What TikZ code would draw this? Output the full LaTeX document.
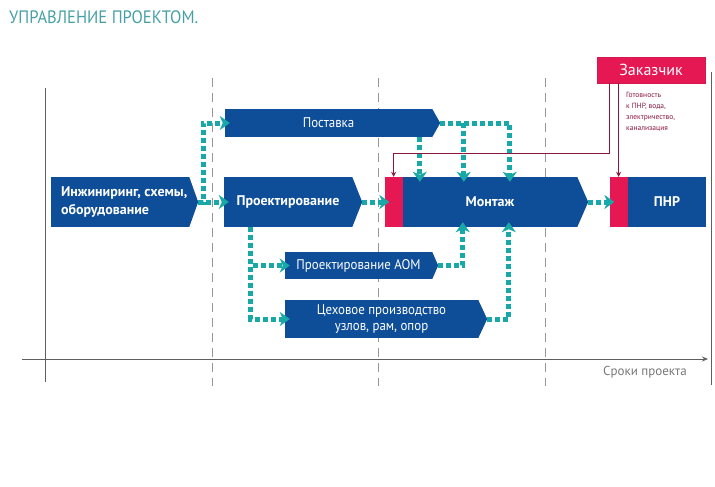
\documentclass[tikz,border=0pt]{standalone}
\usepackage{fontspec}
\setmainfont{PT Sans}
\newfontfamily\narrowfont{PT Sans}[FakeStretch=0.92]
\usetikzlibrary{arrows.meta,positioning}
\definecolor{blockblue}{RGB}{14,78,152}
\definecolor{custpink}{RGB}{230,24,84}
\definecolor{flowteal}{RGB}{24,168,168}
\definecolor{titleteal}{RGB}{72,160,166}
\definecolor{custline}{RGB}{140,22,62}
\definecolor{gridgray}{RGB}{150,150,150}
\definecolor{axisgray}{RGB}{95,95,95}

\begin{document}
\begin{tikzpicture}[x=1pt,y=-1pt,
  every node/.style={inner sep=0pt},
  block/.style={fill=blockblue, text=white, align=center, font=\narrowfont\fontsize{14}{17}\selectfont},
  boldblock/.style={block, font=\fontsize{14}{18}\selectfont\bfseries},
  strip/.style={fill=custpink, minimum width=18pt, minimum height=50pt},
  flow/.style={draw=flowteal, line width=5pt, dash pattern=on 5pt off 3pt, shorten >=-5pt, -{Stealth[length=10pt,width=14pt,inset=3pt]}},
  cust/.style={draw=custline, line width=0.8pt, -{Stealth[length=5pt,width=5pt]}},
  gridline/.style={draw=gridgray, line width=1pt, dash pattern=on 9pt off 6pt}]
\useasboundingbox (0,0) rectangle (715,487);

% title
\node[anchor=west, text=titleteal, font=\narrowfont\fontsize{18}{20}\selectfont] (title) at (9,17) {УПРАВЛЕНИЕ ПРОЕКТОМ.};

% time axis and stages
\foreach \x in {212,378,545}
  \draw[gridline] (\x,78) -- (\x,386);
\draw[axisgray, line width=0.8pt] (45,88) -- (45,382);
\draw[axisgray, line width=0.8pt] (711,72) -- (711,385);
\draw[axisgray, line width=0.8pt, -{Stealth[length=6pt,width=5pt]}] (22,359) -- (708,359);
\node[text=axisgray!85, font=\fontsize{13}{15}\selectfont] (axislabel) at (645,372) {Сроки проекта};

% blocks
\node[block, minimum width=138pt, minimum height=50pt] (eng) at (120,202) {};
\node[anchor=west, text=white, align=left, font=\fontsize{14}{18}\selectfont\bfseries] (engtext) at ([xshift=10pt]eng.west) {Инжиниринг, схемы,\\оборудование};
\node[block, minimum width=207pt, minimum height=28pt] (supply) at (328.5,123) {Поставка};
\node[boldblock, minimum width=128pt, minimum height=50pt] (design) at (288,202) {Проектирование};
\node[boldblock, minimum width=174pt, minimum height=50pt] (mont) at (490,202) {Монтаж};
\node[strip] (montstrip) [left=0pt of mont] {};
\node[boldblock, minimum width=78pt, minimum height=50pt] (pnr) at (667,202) {ПНР};
\node[strip] (pnrstrip) [left=0pt of pnr] {};
\node[block, minimum width=147pt, minimum height=27pt] (aom) at (358.5,265.5) {Проектирование АОМ};
\node[block, minimum width=193pt, minimum height=38pt, font=\narrowfont\fontsize{14}{16}\selectfont] (shop) at (381.5,319) {Цеховое производство\\узлов, рам, опор};

% pointed ends
\foreach \n/\d in {eng/9,supply/8,design/10,aom/6,shop/9,mont/11}{
  \fill[blockblue] (\n.north east) -- ([xshift=\d pt]\n.east) -- (\n.south east) -- cycle;
  \coordinate (\n-tip) at ([xshift=\d pt]\n.east);
}

% customer
\node[fill=custpink, draw=custpink!80!custline, line width=0.6pt, text=white, minimum width=108pt, minimum height=26pt, font=\fontsize{16}{18}\selectfont] (client) at (651,70) {Заказчик};
\node[anchor=north west, align=left, text=custline, font=\fontsize{7.5}{11}\selectfont] (readiness) at (626,92) {Готовность\\к ПНР, вода,\\электричество,\\канализация};

% inputs of assembly
\path (mont.north west) ++(17,0) coordinate (top-a) ++(44,0) coordinate (top-b) ++(46,0) coordinate (top-c);
\path (mont.south west) ++(60,0) coordinate (bot-a) ++(46,0) coordinate (bot-b);
\coordinate (split) at ([xshift=27pt]design.south west);

% flows
\draw[flow] (eng-tip) -- (design.west);
\draw[flow] (eng-tip) -- ++(5,0) |- (supply.west);
\draw[flow] (design-tip) -- (montstrip.west);
\draw[flow] (supply.south -| top-a) -- (top-a);
\draw[flow] (supply-tip -| top-b) -- (top-b);
\draw[flow] (supply-tip) -| (top-c);
\draw[flow] (split) |- (aom.west);
\draw[flow] (split) |- (shop.west);
\draw[flow] (aom-tip) -| (bot-a);
\draw[flow] (shop-tip) -| (bot-b);
\draw[flow] (mont-tip) -- (pnrstrip.west);

% customer links
\draw[cust] (client.south west) ++(13,0) |- ([yshift=23pt]montstrip.north) -- (montstrip.north);
\draw[cust] (client.south -| pnrstrip.north) -- (pnrstrip.north);
\end{tikzpicture}
\end{document}
